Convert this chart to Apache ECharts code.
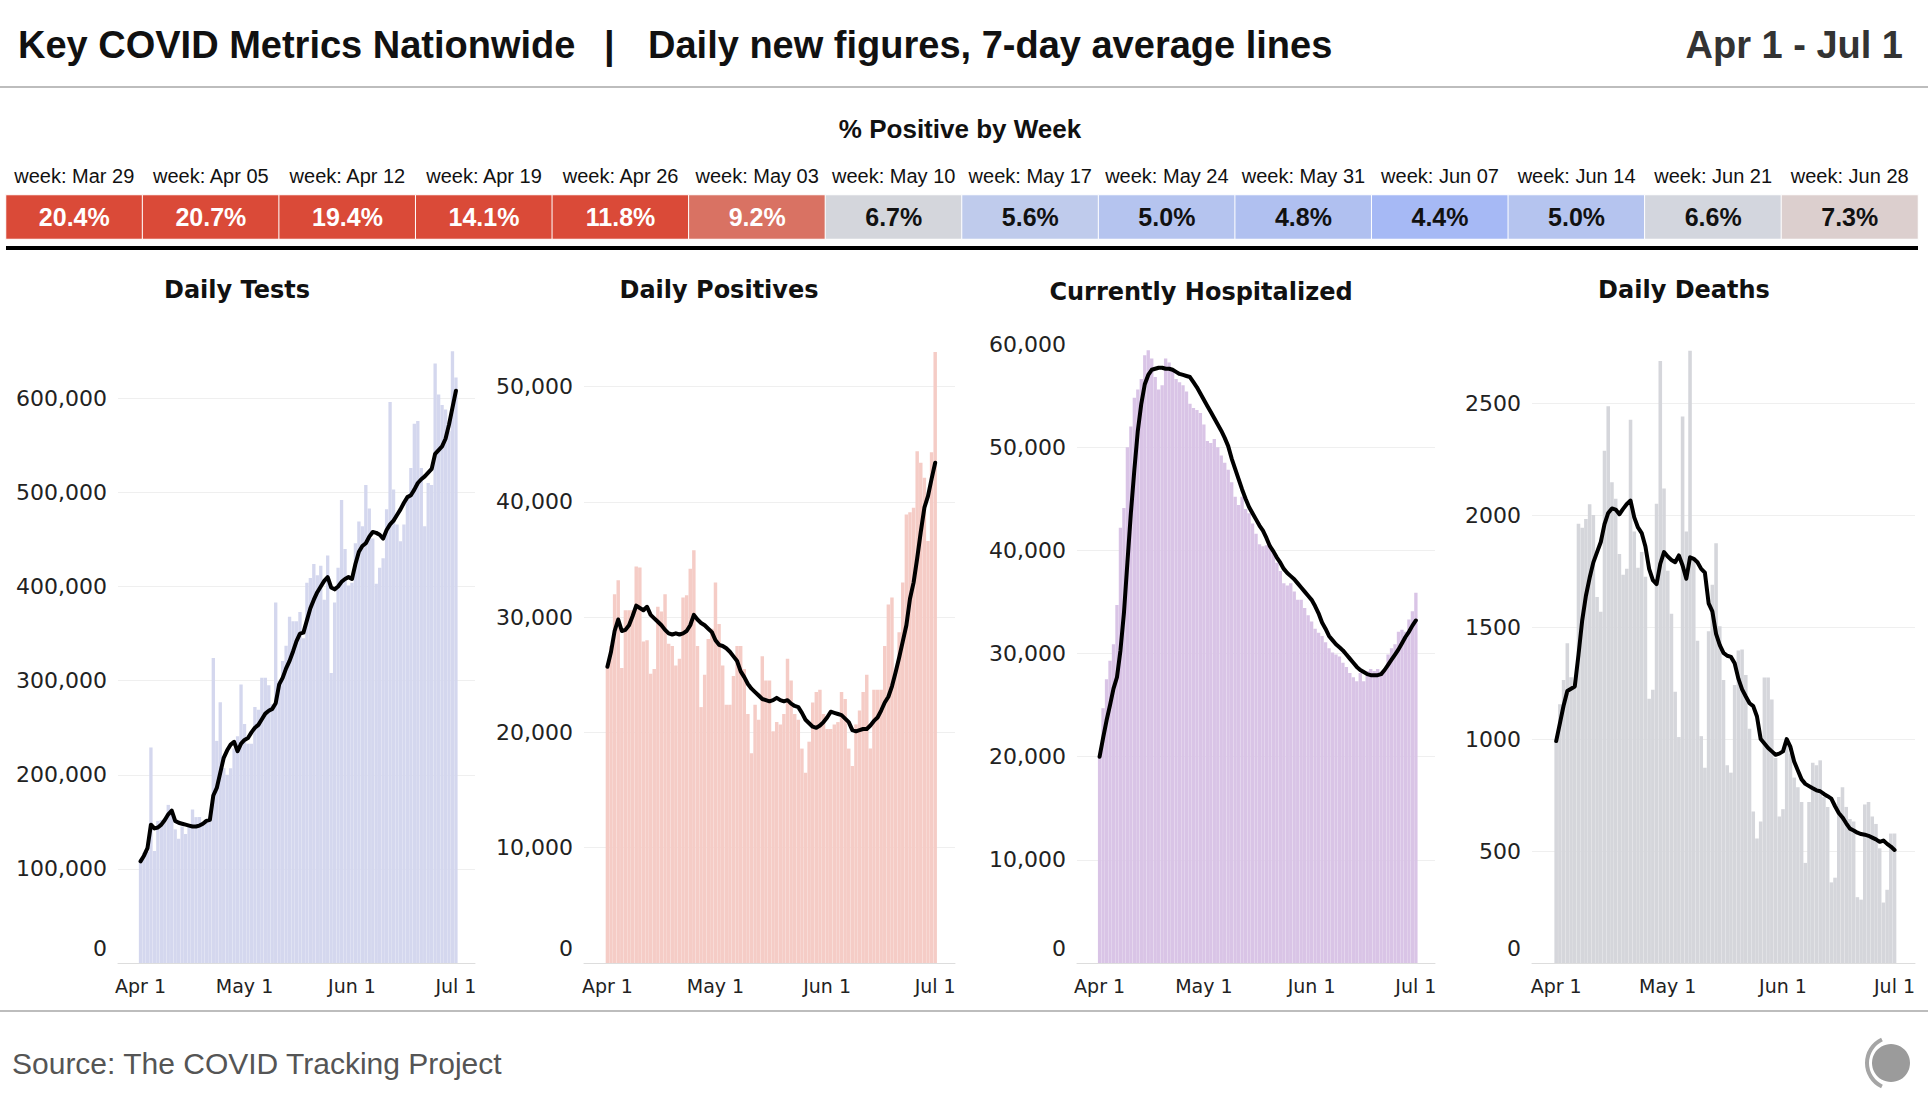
<!DOCTYPE html>
<html><head><meta charset="utf-8">
<script src="https://cdn.jsdelivr.net/npm/echarts@6/dist/echarts.min.js"></script>
<style>html,body{margin:0;padding:0;background:#fff;}#c{width:1928px;height:1114px;}</style>
</head><body><div id="c"></div>
<script>
// ---------- DATA ----------
const weekLabels = ['Mar 29','Apr 05','Apr 12','Apr 19','Apr 26','May 03','May 10','May 17','May 24','May 31','Jun 07','Jun 14','Jun 21','Jun 28'];
const weekPct = [20.4,20.7,19.4,14.1,11.8,9.2,6.7,5.6,5.0,4.8,4.4,5.0,6.6,7.3];

const panelTitles = ['Daily Tests','Daily Positives','Currently Hospitalized','Daily Deaths'];

const testsDaily = [
109000,117000,118000,229000,119000,151000,152000,150000,168000,160000,
142000,132000,145000,137000,145000,163000,155000,155000,150000,150000,
152000,324000,236000,277000,207000,200000,207000,228000,241000,296000,
254000,233000,233000,272000,269000,303000,303000,295000,275000,383000,
300000,321000,337000,368000,363000,363000,373000,345000,404000,409000,
424000,412000,422000,386000,433000,308000,383000,420000,492000,440000,
401000,404000,446000,469000,464000,508000,483000,451000,403000,420000,
430000,482000,596000,503000,466000,448000,466000,495000,526000,573000,
576000,526000,464000,510000,508000,637000,604000,593000,588000,565000,
650000,622000];
const testsAvg = [
108000,114000,122000,147000,143000,144000,147000,152000,158000,162000,
151000,149000,148000,147000,146000,145000,145000,146000,148000,151000,
152000,178000,186000,202000,218000,226000,232000,235000,225000,233000,
237000,239000,245000,250000,253000,259000,265000,268000,270000,276000,
296000,303000,313000,321000,331000,342000,350000,351000,364000,377000,
386000,394000,400000,406000,410000,399000,397000,400000,405000,408000,
410000,408000,424000,437000,443000,446000,453000,458000,457000,455000,
451000,460000,466000,470000,476000,482000,489000,495000,497000,503000,
510000,514000,517000,521000,525000,541000,545000,549000,557000,572000,
590000,608000];

const posDaily = [
25800,27500,32000,33200,25600,30600,30600,30600,34400,34300,
27900,28000,25100,25500,30900,30500,32000,27700,27500,25800,
26400,31700,31900,34200,35800,27500,22200,25000,28100,29000,
33000,29400,25800,22400,22400,24900,27500,27500,25500,21600,
18200,22400,21100,26600,24500,24500,20100,20900,20700,21600,
26400,24500,21600,21100,18600,16500,19200,22600,23500,23700,
21600,20300,20300,20700,20900,23500,22900,18600,17100,20700,
21900,23500,25000,18600,23700,23700,23700,27500,31100,31700,
25000,28700,33000,38900,39100,39500,44400,43400,42100,36600,
44300,53000];
const posAvg = [
25700,27000,28800,29800,28800,28900,29300,30100,31000,30800,
30600,30900,30200,29900,29600,29300,28900,28600,28500,28600,
28500,28600,28800,29300,30200,29800,29500,29300,29000,28700,
28000,27600,27500,27300,27000,26600,26200,25300,24800,24200,
23800,23500,23200,22900,22800,22700,22800,23000,22800,22700,
22800,22500,22300,22200,21700,21100,20800,20500,20400,20600,
20900,21300,21800,21700,21600,21500,21200,20900,20200,20100,
20200,20300,20300,20600,21000,21300,21900,22600,23100,24000,
25200,26500,27900,29300,31600,33000,35100,37400,39500,40500,
42000,43400];

const hospDaily = [
20100,24700,27500,29300,30900,34700,42200,44100,50000,52000,
54800,55600,56600,58900,59400,58600,56800,55600,56000,58600,
58200,57400,56600,56300,56000,55400,54200,53800,53600,53300,
52200,50600,50400,50800,50000,49200,48500,47800,46600,45200,
44400,45200,44000,43600,42600,41600,40600,40400,40500,40600,
39800,38800,38000,36800,36600,36800,36000,35200,35200,34400,
33700,33100,32400,32000,31700,31100,30500,30100,29900,29700,
29100,28700,28100,27700,27300,28100,27300,28300,28500,28300,
28500,28100,28300,29900,30500,30900,32100,32300,32100,33300,
34100,35900];
const hospAvg = [
20000,21800,23500,25000,26600,27700,30300,33900,38800,43600,
47800,51600,54200,56100,57000,57500,57600,57700,57700,57600,
57600,57500,57300,57100,57000,56900,56800,56300,55800,55200,
54600,54000,53400,52800,52200,51600,50900,50100,48900,47900,
46900,45900,45000,44200,43600,43000,42400,41900,41200,40400,
39900,39300,38800,38200,37800,37500,37200,36800,36400,36000,
35600,35200,34600,33900,33000,32400,31700,31300,30900,30600,
30300,29900,29500,29100,28700,28400,28200,28000,27900,27900,
27900,28000,28400,28900,29400,29900,30400,31000,31600,32100,
32700,33200];

const deathsDaily = [
991,1155,1264,1428,1276,1229,1962,1944,1983,2049,
2001,1635,1569,2288,2486,2147,2073,1826,1734,1761,
2426,1927,1765,1835,1725,1180,1220,2051,2688,2119,
1752,1560,1211,1009,2440,1927,2734,1800,1439,1013,
872,1482,1689,1874,1504,1264,883,850,1242,1395,
1400,1286,1046,676,556,632,1275,1275,1177,915,
654,687,992,937,828,785,719,447,719,894,
883,905,741,697,360,381,741,785,697,643,
632,294,283,708,719,654,621,512,270,327,
578,578];
const deathsAvg = [
991,1070,1150,1215,1225,1235,1376,1530,1640,1720,
1789,1835,1880,1960,2010,2030,2025,2004,2028,2050,
2065,1990,1945,1920,1860,1760,1710,1692,1783,1835,
1815,1800,1790,1820,1775,1716,1812,1805,1790,1760,
1743,1606,1570,1470,1420,1385,1372,1367,1339,1270,
1222,1190,1160,1147,1101,1000,980,960,945,930,
935,945,1000,965,900,860,820,800,790,780,
771,767,755,745,734,700,670,650,624,600,
592,582,576,573,568,560,552,541,547,532,
520,505];

// ---------- helpers ----------
const MONTHS = ['Jan','Feb','Mar','Apr','May','Jun','Jul','Aug','Sep','Oct','Nov','Dec'];
function iso(t){ const d=new Date(t); return d.toISOString().slice(0,10); }
const DAY = 86400000;
const axisDays = [];
for (let t = Date.UTC(2020,2,26); t <= Date.UTC(2020,6,6); t += DAY) axisDays.push(iso(t));
const dataDays = [];
for (let t = Date.UTC(2020,3,1); t <= Date.UTC(2020,6,1); t += DAY) dataDays.push(iso(t));
function pairs(arr){ return arr.map((v,i)=>[dataDays[i], v]); }
function dayLabel(s){ return MONTHS[+s.slice(5,7)-1] + ' ' + (+s.slice(8,10)); }

const colorStops = [
  [4.4,[166,185,245]],[4.8,[176,192,240]],[5.0,[181,196,239]],[5.6,[191,203,236]],
  [6.6,[211,214,222]],[6.7,[212,214,220]],[7.3,[220,207,206]],[9.2,[217,114,99]],[11.8,[218,74,56]]
];
function colorFor(p){
  if (p <= colorStops[0][0]) return 'rgb('+colorStops[0][1].join(',')+')';
  for (let i=1;i<colorStops.length;i++){
    const a=colorStops[i-1], b=colorStops[i];
    if (p <= b[0]) {
      const t=(p-a[0])/(b[0]-a[0]);
      const c=a[1].map((x,k)=>Math.round(x+(b[1][k]-x)*t));
      return 'rgb('+c.join(',')+')';
    }
  }
  return 'rgb('+colorStops[colorStops.length-1][1].join(',')+')';
}
const fmtComma = v => v.toString().replace(/\B(?=(\d{3})+(?!\d))/g, ',');

const AXF = 'DejaVu Sans';
const HF = 'Liberation Sans';

const panels = [
  {daily:testsDaily, avg:testsAvg, left:118, width:357, top:323, height:640, max:680000, interval:100000, color:'#d4d7ee', comma:true, cx:237},
  {daily:posDaily, avg:posAvg, left:584, width:371, top:329, height:634, max:55000, interval:10000, color:'#f5ccc6', comma:true, cx:719},
  {daily:hospDaily, avg:hospAvg, left:1077, width:358, top:344, height:619, max:60000, interval:10000, color:'#d9c4e6', comma:true, cx:1201},
  {daily:deathsDaily, avg:deathsAvg, left:1532, width:383, top:336, height:627, max:2800, interval:500, color:'#d5d6db', comma:false, cx:1684}
];

const grids = [{left:6, top:195, width:1912, height:44}];
const xAxes = [{
  type:'category', gridIndex:0, data: weekLabels.map(w=>'week: '+w), position:'top',
  axisLine:{show:false}, axisTick:{show:false},
  axisLabel:{interval:0, fontFamily:HF, fontSize:20, color:'#111', margin:9}
}];
const yAxes = [{type:'category', gridIndex:0, data:[''], show:false}];
const series = [{
  type:'heatmap', xAxisIndex:0, yAxisIndex:0,
  data: weekPct.map((p,i)=>({value:[i,0,p], itemStyle:{color:colorFor(p)}, label:{color: p>=9 ? '#ffffff' : '#111111'}})),
  itemStyle:{borderColor:'#ffffff', borderWidth:1},
  label:{show:true, fontFamily:HF, fontSize:25, fontWeight:'bold', formatter: p => p.value[2].toFixed(1)+'%'},
  emphasis:{disabled:true}
}];

panels.forEach((p,k)=>{
  const gi = k+1;
  grids.push({left:p.left, top:p.top, width:p.width, height:p.height});
  xAxes.push({
    type:'category', gridIndex:gi, data:axisDays, boundaryGap:true,
    axisTick:{show:false},
    axisLine:{lineStyle:{color:'#dddddd', width:1}},
    axisLabel:{
      interval:(idx,val)=>val.slice(8,10)==='01',
      formatter: v => dayLabel(v),
      fontFamily:AXF, fontSize:19, color:'#222', margin:13
    }
  });
  yAxes.push({
    type:'value', gridIndex:gi, min:0, max:p.max, interval:p.interval,
    axisLine:{show:false}, axisTick:{show:false},
    splitLine:{lineStyle:{color:'#efefef', width:1}, showMaxLine:false},
    axisLabel:{
      showMaxLabel: p.max % p.interval === 0,
      fontFamily:AXF, fontSize:22, color:'#222', margin:11,
      formatter: v => v===0 ? '{z|0}' : (p.comma ? fmtComma(v) : String(v)),
      rich:{z:{fontFamily:AXF, fontSize:22, color:'#222', padding:[0,0,30,0]}}
    }
  });
  series.push({
    type:'bar', xAxisIndex:gi, yAxisIndex:gi, data:pairs(p.daily),
    itemStyle:{color:p.color}, barCategoryGap:'4%', silent:true, z:2
  });
  series.push({
    type:'line', xAxisIndex:gi, yAxisIndex:gi, data:pairs(p.avg),
    showSymbol:false, symbol:'none', lineStyle:{color:'#000', width:4, cap:'round', join:'round'},
    silent:true, z:3
  });
});

const graphics = [
  {type:'text', left:18, top:26, style:{text:'Key COVID Metrics Nationwide', font:'bold 38px "Liberation Sans"', fill:'#111'}},
  {type:'text', left:604, top:26, style:{text:'|', font:'bold 38px "Liberation Sans"', fill:'#111'}},
  {type:'text', left:648, top:26, style:{text:'Daily new figures, 7-day average lines', font:'bold 38px "Liberation Sans"', fill:'#111'}},
  {type:'text', right:25, top:26, style:{text:'Apr 1 - Jul 1', font:'bold 38px "Liberation Sans"', fill:'#333'}},
  {type:'rect', shape:{x:0, y:86, width:1928, height:2}, style:{fill:'#bdbdbd'}},
  {type:'text', x:960, y:129, style:{text:'% Positive by Week', font:'bold 26px "Liberation Sans"', fill:'#111', textAlign:'center', textVerticalAlign:'middle'}},
  {type:'rect', shape:{x:6, y:246, width:1912, height:4}, style:{fill:'#000'}},
  {type:'rect', shape:{x:0, y:1010, width:1928, height:2}, style:{fill:'#bdbdbd'}},
  {type:'text', x:12, y:1063, style:{text:'Source: The COVID Tracking Project', font:'30px "Liberation Sans"', fill:'#555', textVerticalAlign:'middle'}},
  {type:'circle', shape:{cx:1891, cy:1063, r:19}, style:{fill:'#9b9b9b'}},
  {type:'arc', shape:{cx:1893, cy:1063, r:26, startAngle:Math.PI*0.64, endAngle:Math.PI*1.36, clockwise:true}, style:{stroke:'#a5a5a5', lineWidth:4, fill:null}}
];
panelTitles.forEach((t,k)=>{
  graphics.push({type:'text', x:panels[k].cx, y: k===2 ? 292 : 290, style:{text:t, font:'bold 24px "DejaVu Sans"', fill:'#111', textAlign:'center', textVerticalAlign:'middle'}});
});

const chart = echarts.init(document.getElementById('c'), null, {renderer:'svg', width:1928, height:1114});
chart.setOption({
  backgroundColor:'#ffffff',
  animation:false,
  grid:grids, xAxis:xAxes, yAxis:yAxes, series:series,
  graphic:graphics
});
</script>
</body></html>
